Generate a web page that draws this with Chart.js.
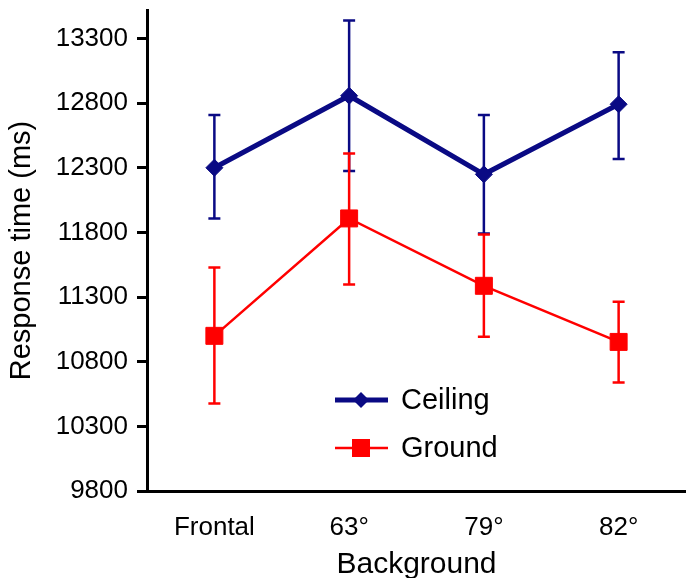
<!DOCTYPE html>
<html>
<head>
<meta charset="utf-8">
<script src="https://cdn.jsdelivr.net/npm/chart.js@4/dist/chart.umd.min.js"></script>
<style>
	body { margin: 0; background: #fff; }
	#rt { display: block; }
</style>
</head>
<body>
<canvas id="rt" width="686" height="578"></canvas>
<script>
	// categories / values
	var backgrounds = ["Frontal", "63°", "79°", "82°"];
	var ceilingMean = [12300, 12857, 12249, 12791];
	var ceilingHigh = [12708, 13438, 12708, 13193];
	var ceilingLow = [11908, 12274, 11792, 12367];
	var groundMean = [11000, 11908, 11387, 10953];
	var groundHigh = [11529, 12411, 11784, 11263];
	var groundLow = [10476, 11397, 10992, 10639];
	var yTicks = [9800, 10300, 10800, 11300, 11800, 12300, 12800, 13300];

	var NAVY = "#0a0a84";
	var RED = "#ff0000";
	var FONT = "'Liberation Sans', Arial, Helvetica, sans-serif";

	// error bars, drawn under the markers
	var errorBars = {
		id: 'errorBars',
		beforeDatasetsDraw: function(chart) {
			var ctx = chart.ctx;
			var y = chart.scales.y;
			chart.data.datasets.forEach(function(ds, di) {
				var meta = chart.getDatasetMeta(di);
				ctx.save();
				ctx.strokeStyle = ds.borderColor;
				ctx.lineWidth = 2.5;
				for (var i = 0; i < ds.data.length; i++) {
					var x = meta.data[i].x;
					var hi = y.getPixelForValue(ds.errHigh[i]);
					var lo = y.getPixelForValue(ds.errLow[i]);
					ctx.beginPath();
					ctx.moveTo(x, hi); ctx.lineTo(x, lo);
					ctx.moveTo(x - 6, hi); ctx.lineTo(x + 6, hi);
					ctx.moveTo(x - 6, lo); ctx.lineTo(x + 6, lo);
					ctx.stroke();
				}
				ctx.restore();
			});
		}
	};

	// legend sitting inside the plot
	var innerLegend = {
		id: 'innerLegend',
		afterDraw: function(chart) {
			var ctx = chart.ctx;
			var rows = [400, 448];
			ctx.save();
			chart.data.datasets.forEach(function(ds, i) {
				var cy = rows[i];
				ctx.strokeStyle = ds.borderColor;
				ctx.fillStyle = ds.borderColor;
				ctx.lineWidth = ds.borderWidth;
				ctx.beginPath();
				ctx.moveTo(335, cy); ctx.lineTo(388, cy);
				ctx.stroke();
				ctx.beginPath();
				if (ds.pointStyle === 'rectRot') {
					ctx.moveTo(361 - 8, cy); ctx.lineTo(361, cy - 8);
					ctx.lineTo(361 + 8, cy); ctx.lineTo(361, cy + 8);
				} else {
					ctx.rect(361 - 9, cy - 9, 18, 18);
				}
				ctx.closePath();
				ctx.fill();
				ctx.fillStyle = "#000";
				ctx.font = "29px " + FONT;
				ctx.textBaseline = "middle";
				ctx.fillText(ds.label, 401, cy + 1);
			});
			ctx.restore();
		}
	};

	new Chart(document.getElementById("rt"), {
		type: 'line',
		data: {
			labels: backgrounds,
			datasets: [{
				label: 'Ceiling',
				data: ceilingMean,
				errHigh: ceilingHigh,
				errLow: ceilingLow,
				borderColor: NAVY,
				backgroundColor: NAVY,
				borderWidth: 5,
				pointStyle: 'rectRot',
				pointRadius: 8.5,
				pointBorderWidth: 1,
				tension: 0
			}, {
				label: 'Ground',
				data: groundMean,
				errHigh: groundHigh,
				errLow: groundLow,
				borderColor: RED,
				backgroundColor: RED,
				borderWidth: 2.5,
				pointStyle: 'rect',
				pointRadius: 12,
				pointBorderWidth: 1,
				tension: 0
			}]
		},
		options: {
			responsive: false,
			animation: false,
			devicePixelRatio: 1,
			layout: { autoPadding: false, padding: { top: 10, right: 0, left: 0, bottom: 0 } },
			plugins: {
				legend: { display: false },
				tooltip: { enabled: false }
			},
			scales: {
				x: {
					offset: true,
					grid: { display: false },
					border: { display: true, color: '#000', width: 3 },
					ticks: {
						color: '#000',
						padding: 13,
						font: { family: FONT, size: 26 }
					},
					title: {
						display: true,
						text: 'Background',
						color: '#000',
						padding: { top: 0, bottom: -2 },
						font: { family: FONT, size: 30, lineHeight: 1 }
					},
					afterFit: function(s) { s.height = 87; s.paddingLeft = 0; s.paddingRight = 0; }
				},
				y: {
					min: 9800,
					max: 13520,
					grid: {
						display: true,
						drawOnChartArea: false,
						drawTicks: true,
						tickLength: 10,
						color: '#000',
						lineWidth: 3
					},
					border: { display: true, color: '#000', width: 3 },
					ticks: {
						color: '#000',
						padding: 9,
						font: { family: FONT, size: 26 },
						callback: function(v) { return String(v); }
					},
					afterBuildTicks: function(s) {
						s.ticks = yTicks.map(function(v) { return { value: v }; });
					},
					title: {
						display: true,
						text: 'Response time (ms)',
						color: '#000',
						padding: { top: 5, bottom: 0 },
						font: { family: FONT, size: 29 }
					},
					afterFit: function(s) { s.width = 147; s.paddingTop = 0; s.paddingBottom = 0; }
				}
			}
		},
		plugins: [errorBars, innerLegend]
	});
</script>
</body>
</html>
